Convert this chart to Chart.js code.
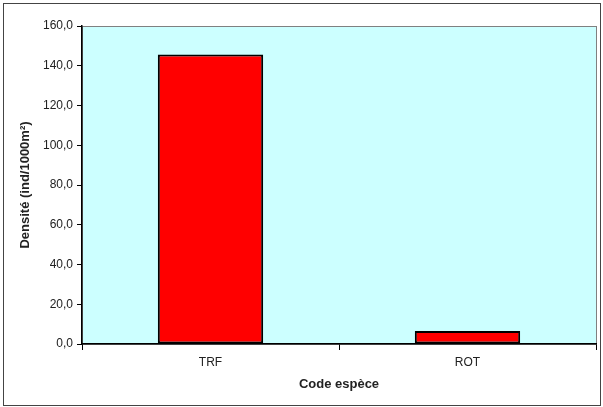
<!DOCTYPE html>
<html>
<head>
<meta charset="utf-8">
<script src="https://cdn.jsdelivr.net/npm/chart.js@4"></script>
<style>
  body { margin: 0; background: #fff; }
  #wrap { width: 603px; height: 407px; }
</style>
</head>
<body>
<div id="wrap"><canvas id="myChart" width="603" height="407"></canvas></div>
<script>
// espèces et densités
const labels = ["TRF", "ROT"];
const densite = [145.6, 6.6];
const yTicks = [0, 20, 40, 60, 80, 100, 120, 140, 160];

const police = '"Liberation Sans Narrow", "Arial Narrow", Arial, "Liberation Sans"';
const policeTitre = 'Arial, "Liberation Sans"';

// fond cyan de la zone de tracé + cadre extérieur
const fond = {
  id: 'fond',
  beforeDraw(chart) {
    const c = chart.ctx, a = chart.chartArea;
    c.save();
    c.fillStyle = '#CCFFFF';
    c.fillRect(a.left, a.top, a.right - a.left, a.bottom - a.top);
    c.strokeStyle = '#808080';
    c.lineWidth = 1;
    c.strokeRect(a.left + 0.5, a.top + 0.5, a.right - a.left, a.bottom - a.top);
    c.strokeStyle = '#444';
    c.strokeRect(3.5, 3.5, 597, 402);
    c.restore();
  }
};

var ctx = document.getElementById('myChart').getContext('2d');

var chart = new Chart(ctx, {
  type: 'bar',
  data: {
    labels: labels,
    datasets: [{
      label: 'Densité',
      data: densite,
      backgroundColor: '#FF0000',
      borderColor: '#000000',
      borderWidth: 2,
      borderSkipped: false,
      categoryPercentage: 1,
      barPercentage: 0.41
    }]
  },
  options: {
    responsive: false,
    animation: false,
    layout: { padding: { left: 0, top: 26, right: 7, bottom: 0 } },
    plugins: { legend: { display: false }, tooltip: { enabled: false } },
    scales: {
      x: {
        afterFit(scale) { scale.height = 63; },
        grid: { display: true, drawOnChartArea: false, drawTicks: true, tickLength: 6, color: '#000', offset: true },
        border: { color: '#000', width: 1.5 },
        ticks: { color: '#222', font: { family: police, size: 12 }, padding: 5 },
        title: { display: true, text: 'Code espèce', color: '#222',
                 font: { family: policeTitre, size: 13, weight: 'bold' }, padding: { top: 0, bottom: 15 } }
      },
      y: {
        min: 0, max: 160,
        afterBuildTicks(scale) { scale.ticks = yTicks.map(v => ({ value: v })); },
        afterFit(scale) { scale.width = 82; },
        grid: { display: true, drawOnChartArea: false, drawTicks: true, tickLength: 5, color: '#000' },
        border: { color: '#000', width: 1.5 },
        ticks: {
          color: '#222', padding: 4,
          font: { family: police, size: 12 },
          callback: v => v.toFixed(1).replace('.', ',')
        },
        title: { display: true, text: 'Densité (ind/1000m²)', color: '#222',
                 font: { family: policeTitre, size: 13, weight: 'bold' }, padding: { top: 18, bottom: 0 } }
      }
    }
  },
  plugins: [fond]
});
</script>
</body>
</html>
